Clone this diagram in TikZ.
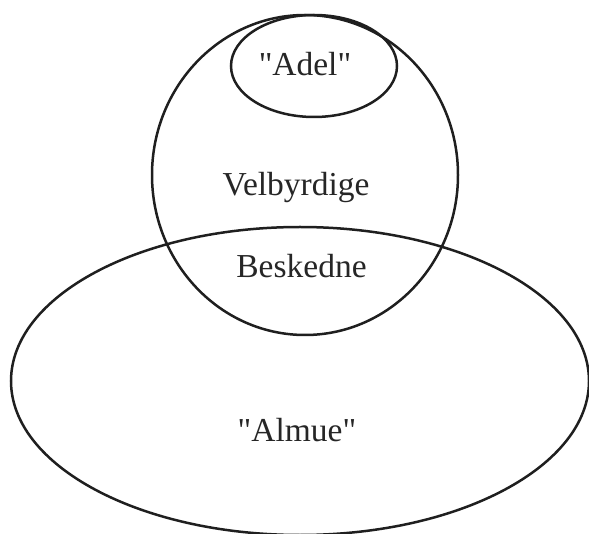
\documentclass[tikz,border=0pt]{standalone}
\usepackage{fontspec}
\setmainfont{Liberation Serif}
\usetikzlibrary{shapes.geometric}
\begin{document}
\begin{tikzpicture}[x=1pt,y=-1pt,
  setshape/.style={draw=black!88, line width=2.5pt, ellipse, inner sep=0pt},
  lbl/.style={anchor=base, inner sep=0pt, text=black!85, font=\fontsize{33.5}{40}\selectfont}]
\useasboundingbox (0,0) rectangle (589,534);
\node[setshape, minimum width=306pt, minimum height=320pt] (velb) at (305,175) {};
\node[setshape, minimum width=166pt, minimum height=102pt] (adel) at (314,66) {};
\node[setshape, minimum width=578pt, minimum height=308pt] (almue) at (300,381) {};
\node[lbl] (tadel) at (305,76) {\textquotedbl Adel\textquotedbl};
\node[lbl] (tvelb) at (296,196) {Velbyrdige};
\node[lbl] (tbesk) at (301.5,278) {Beskedne};
\node[lbl] (talmue) at (297,442) {\textquotedbl Almue\textquotedbl};
\end{tikzpicture}
\end{document}
